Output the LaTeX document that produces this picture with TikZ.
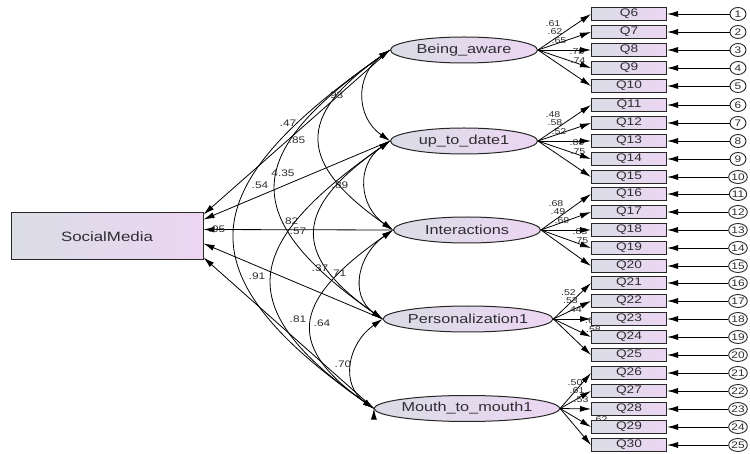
\documentclass[tikz,border=0pt]{standalone}
\usepackage{fontspec}
\newfontfamily\amosfont[FakeStretch=1.25]{Liberation Sans}
\usetikzlibrary{positioning,calc,shapes.geometric,arrows.meta}
\definecolor{shadegrey}{RGB}{218,220,230}
\definecolor{shadepink}{RGB}{236,214,242}
\definecolor{labelgrey}{RGB}{45,45,50}

\begin{document}
\begin{tikzpicture}[
    x=1pt,y=-1pt,
    >={Latex[length=11pt,width=6pt]},
    latent/.style={ellipse,draw=black!85,line width=1pt,inner sep=0pt,
      minimum width=147pt,minimum height=26pt,
      left color=shadegrey,right color=shadepink,text=labelgrey,
      font=\amosfont\fontsize{13}{13}\selectfont},
    item/.style={rectangle,draw=black!85,line width=1pt,inner sep=0pt,
      minimum width=75pt,minimum height=13.5pt,
      left color=shadegrey,right color=shadepink,text=labelgrey,
      font=\amosfont\fontsize{11}{11}\selectfont},
    errnode/.style={ellipse,draw=black!85,line width=0.9pt,fill=white,inner sep=0pt,
      minimum width=16pt,minimum height=13pt,text=labelgrey,
      font=\amosfont\fontsize{9.5}{9.5}\selectfont},
    coef/.style={inner sep=0pt,text=labelgrey,
      font=\amosfont\fontsize{9.5}{9.5}\selectfont},
    load/.style={inner sep=0pt,text=labelgrey,
      font=\amosfont\fontsize{8.5}{8.5}\selectfont},
    cov/.style={<->,out=215,in=145,looseness=#1},
    cov/.default=1.7,
  ]
  \useasboundingbox (0,0) rectangle (750,454);

  \node[item,minimum width=192pt,minimum height=47pt,
    font=\amosfont\fontsize{13.5}{13.5}\selectfont] (social) at (107,236.5) {SocialMedia};
  \node[latent] (aware)    at (464,50)  {Being\_aware};
  \node[latent] (uptodate) at (464,141) {up\_to\_date1};
  \node[latent] (interact) at (467,230) {Interactions};
  \node[latent] (person)   at (468,319) {Personalization1};
  \node[latent] (mouth)    at (467,408.5) {Mouth\_to\_mouth1};

  \foreach \lat/\yy/\va/\vb/\vc/\vd/\ve [count=\g from 0] in {
      aware/50/.61/.62/.65/.78/.74,
      uptodate/141/.48/.58/.52/.80/.75,
      interact/230/.68/.49/.69/.83/.75,
      person/319/.52/.53/.44/.60/.58,
      mouth/409/.50/.61/.53/.81/.62}{
    \node[load] at ($(\lat.east)+(15,-26)$) {\va};
    \node[load] at ($(\lat.east)+(17,-18)$) {\vb};
    \node[load] at ($(\lat.east)+(21,-9)$)  {\vc};
    \node[load] at ($(\lat.east)+(39,2)$)   {\vd};
    \node[load] at ($(\lat.east)+(40,11)$)  {\ve};
    \foreach \j in {1,...,5}{
      \pgfmathtruncatemacro\n{\g*5+\j}
      \pgfmathtruncatemacro\q{\n+5}
      \node[item] (q\q) at (629,\yy+18*\j-54) {Q\q};
      \node[errnode] (e\n) at (738,\yy+18*\j-54) {\n};
      \draw[->,line width=0.9pt] (e\n) -- (q\q);
      \draw[->,line width=0.8pt] (\lat.east) -- (q\q.west);
    }
  }

  \begin{scope}[every path/.style={draw,line width=0.8pt}]
    \path[->]
    (aware.west)    edge ([yshift=22pt]social.east)
    (uptodate.west) edge ([yshift=17pt]social.east)
    (interact.west) edge ([yshift=7pt]social.east)
    (person.west)   edge ([yshift=-7pt]social.east)
    (mouth.west)    edge ([yshift=-21pt]social.east);
    \path
    (aware.west)    edge[cov=1.2]  (uptodate.west)
    (aware.west)    edge[cov=1.65] (interact.west)
    (aware.west)    edge[cov]      (person.west)
    (aware.west)    edge[cov]      (mouth.west)
    (uptodate.west) edge[cov=1.2]  (interact.west)
    (uptodate.west) edge[cov=1.65] (person.west)
    (uptodate.west) edge[cov]      (mouth.west)
    (interact.west) edge[cov=1.2]  (person.west)
    (interact.west) edge[cov=1.65] (mouth.west)
    (person.west)   edge[cov=1.2]  (mouth.west);
  \end{scope}

  \node[coef] (c-ab) at (335,95)  {.93};
  \node[coef] (p-a)  at (288,123) {.47};
  \node[coef] (c-ai) at (297,140) {.85};
  \node[coef] (p-u)  at (283,173) {4.35};
  \node[coef] (c-ap) at (260,185) {.54};
  \node[coef] (c-ui) at (340,185) {.89};
  \node[coef] (c-am) at (217,229) {.95};
  \node[coef] (p-i)  at (290,221) {.82};
  \node[coef] (c-up) at (298,231) {.57};
  \node[coef] (c-um) at (257,276) {.91};
  \node[coef] (p-p)  at (320,268) {.37};
  \node[coef] (c-ip) at (338,273) {.71};
  \node[coef] (c-im) at (298,319) {.81};
  \node[coef] (p-m)  at (322,323) {.64};
  \node[coef] (c-pm) at (343,364) {.70};
\end{tikzpicture}
\end{document}
